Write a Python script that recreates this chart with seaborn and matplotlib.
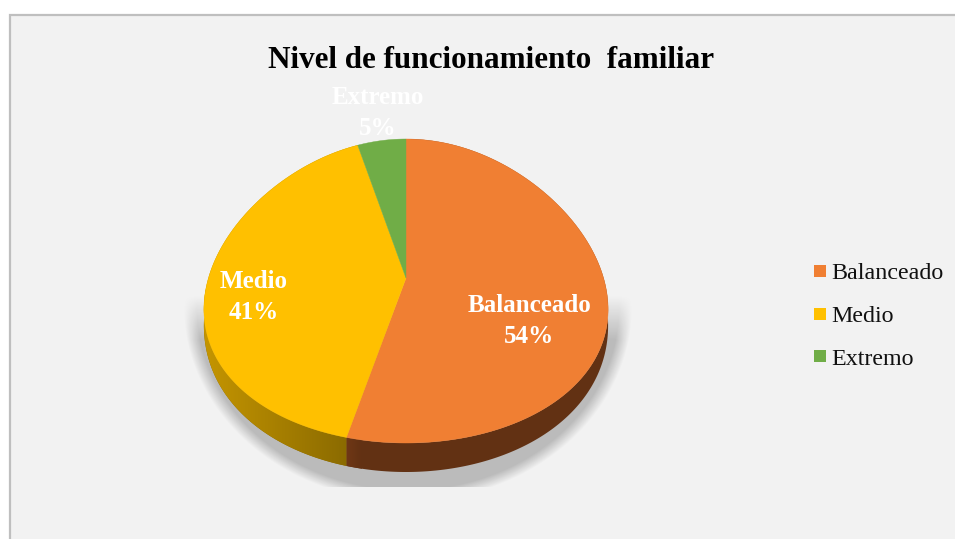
import numpy as np
import matplotlib
matplotlib.use("Agg")
import matplotlib.pyplot as plt
import seaborn as sns
from matplotlib.lines import Line2D
from matplotlib.patches import Polygon, Rectangle, PathPatch
from matplotlib.path import Path

title = "Nivel de funcionamiento  familiar"
categories = ["Balanceado", "Medio", "Extremo"]
values = [54, 41, 5]
face_colors = ["#F07F33", "#FFC000", "#70AD47"]

sns.set_theme(style="white")
plt.rcParams["font.family"] = ["Liberation Serif", "DejaVu Sans"]
palette = sns.color_palette(face_colors)

fig = plt.figure(figsize=(9.55, 5.39), dpi=100, facecolor="white")
ax = fig.add_axes([0, 0, 1, 1])
wedges, _ = ax.pie(values, colors=palette, startangle=90, counterclock=False)
ax.set_aspect("auto")
ax.axis("off")

CX, CY, RX, RY, DEPTH = 406, 291, 203.5, 152, 29


def warp(x, y):
    xp = x * (1 - 0.22 * y) / 1.03
    yp = y + 0.085 * (1 - y ** 2)
    return np.column_stack([CX + RX * xp, CY - RY * yp])


# read each slice's angles from the pie, then tilt it into perspective
arcs = []
for w in wedges:
    t = np.radians(np.linspace(w.theta1, w.theta2, 300))
    arcs.append((np.cos(t), np.sin(t)))
    w.remove()

ax.add_patch(Rectangle((9.5, 14.5), 1000, 600, fc="#F2F2F2", ec="#BFBFBF", lw=1.6, zorder=0))

# soft shadow under the pie
gx, gy = np.meshgrid(np.arange(170, 650), np.arange(270, 487))
r = np.sqrt(((gx - 407) / 224.0) ** 2 + ((gy - 306) / 195.0) ** 2)
alpha = np.clip((1 - r) / 0.06, 0, 1) * np.clip((gy - 295) / 45.0, 0, 1) * 0.23
rgba = np.zeros(gx.shape + (4,))
rgba[..., 3] = alpha
ax.imshow(rgba, extent=(170, 650, 487, 270), aspect="auto", zorder=1, interpolation="bilinear")


def wall(ux, uy):
    top = warp(ux, uy)
    depth = DEPTH * (0.45 + 0.55 * np.clip(-uy, 0, 1))
    return np.vstack([top, (top + np.column_stack([np.zeros_like(depth), depth]))[::-1]])


# side wall of the disc
wall_o = wall(*arcs[0])
wall_y = wall(*arcs[1])
ax.add_patch(Polygon(wall_y, closed=True, fc="#8A6A00", ec="none", zorder=1.9))
ax.add_patch(Polygon(wall_o, closed=True, fc="#623113", ec="none", zorder=2))
ox = np.linspace(0, 1, 64).reshape(1, -1, 1)
seam_img = np.array([0x75, 0x3A, 0x17]) * (1 - ox) / 255 + np.array([0x62, 0x31, 0x13]) * ox / 255
im0 = ax.imshow(seam_img, extent=(340, 362, 480, 430), aspect="auto", zorder=2.1)
im0.set_clip_path(PathPatch(Path(np.vstack([wall_o, wall_o[:1]])), transform=ax.transData))

gr = np.linspace(0, 1, 128).reshape(1, -1, 1)
left = np.array([0xC6, 0x96, 0x00]) / 255
right = np.array([0x8A, 0x6A, 0x00]) / 255
img = left * (1 - gr) + right * gr
im = ax.imshow(img, extent=(200, 350, 480, 290), aspect="auto", zorder=2.2)
im.set_clip_path(PathPatch(Path(np.vstack([wall_y, wall_y[:1]])), transform=ax.transData))

ax.set_xlim(0, 955)
ax.set_ylim(539, 0)

# top faces
for (ux, uy), c in zip(arcs, palette):
    face = warp(np.append(ux, 0.0), np.append(uy, 0.0))
    ax.add_patch(Polygon(face, closed=True, fc=c, ec=c, lw=0.3, zorder=3))

ax.text(491, 60, title, ha="center", va="center", fontsize=22.4, fontweight="bold", color="black", zorder=5)

label_pos = [(529, 321), (254, 297), (378, 113)]
for name, v, (lx, ly) in zip(categories, values, label_pos):
    ax.text(lx, ly, f"{name}\n{v}%", ha="center", va="center", fontsize=18, fontweight="bold",
            color="white", linespacing=1.4, zorder=6)

handles = [Line2D([], [], ls="none", marker="s", ms=8.6, mfc=c, mec=c, mew=0) for c in palette]
ax.legend(handles, categories, loc="center left", bbox_to_anchor=(808 / 955, 1 - 316 / 539), frameon=False,
          fontsize=17.3, handlelength=1.0, handletextpad=-0.02, labelspacing=0.88, borderpad=0, borderaxespad=0,
          labelcolor="#111111").set_zorder(6)

fig.savefig("out.png", dpi=100, facecolor="white")
